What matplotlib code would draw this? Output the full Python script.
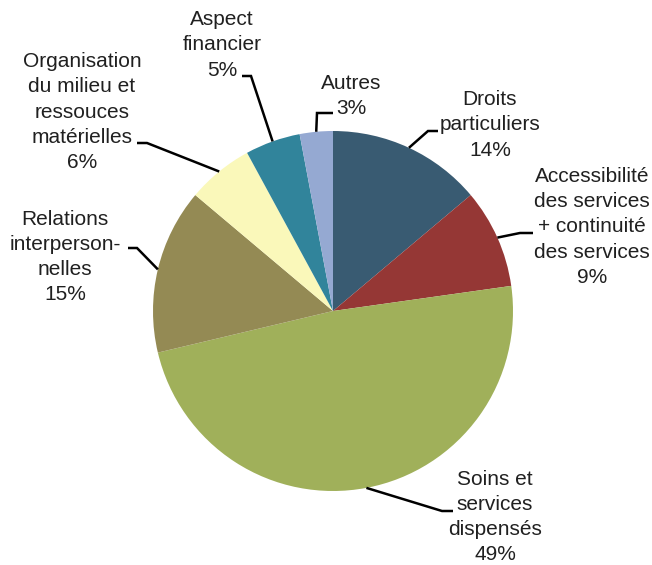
import numpy as np
import matplotlib.pyplot as plt

# Répartition des plaintes par motif
labels = ["Droits\nparticuliers", "Accessibilité\ndes services\n+ continuité\ndes services",
          "Soins et\nservices\ndispensés", "Relations\ninterperson-\nnelles",
          "Organisation\ndu milieu et\nressouces\nmatérielles", "Aspect\nfinancier", "Autres"]
values = [14, 9, 49, 15, 6, 5, 3]
colors = ["#395B72", "#953735", "#A0B05A", "#948A54", "#FAF8BA", "#31849B", "#95A9D2"]

# label placement (pixel space, y down): text centre, knee of the leader line, text-side end
text_pos = [(490, 125), (592, 227), (495, 517), (65, 257), (82, 112), (222, 45), (351, 96)]
knee_pos = [(428, 131), (520, 233), (442, 511), (137, 248), (147, 143), (251, 76), (317, 113)]
end_pos = [(438, 131), (533, 233), (453, 511), (128, 248), (137, 143), (242, 76), (333, 113)]

W, H = 652, 565
cx, cy, r = 333, H - 311, 180

fig = plt.figure(figsize=(W / 100, H / 100), dpi=100)
ax = fig.add_axes([0, 0, 1, 1])
wedges, _ = ax.pie(values, colors=colors, startangle=90, counterclock=False,
                   center=(cx, cy), radius=r, wedgeprops=dict(linewidth=0))
ax.set_xlim(0, W)
ax.set_ylim(0, H)
ax.set_aspect("equal")
ax.axis("off")

for w, lab, val, tp, kp, ep in zip(wedges, labels, values, text_pos, knee_pos, end_pos):
    mid = np.deg2rad((w.theta1 + w.theta2) / 2)
    ax0 = cx + r * np.cos(mid)
    ay0 = cy + r * np.sin(mid)
    ax.plot([ax0, kp[0], ep[0]], [ay0, H - kp[1], H - ep[1]], color="black", lw=1.8,
            solid_capstyle="butt", solid_joinstyle="miter", clip_on=False)
    ax.text(tp[0], H - tp[1], f"{lab}\n{val}%", ha="center", va="center",
            fontsize=15, family="Liberation Sans", color="#202020", linespacing=1.42,
            clip_on=False)

fig.savefig("out.png", dpi=100)
